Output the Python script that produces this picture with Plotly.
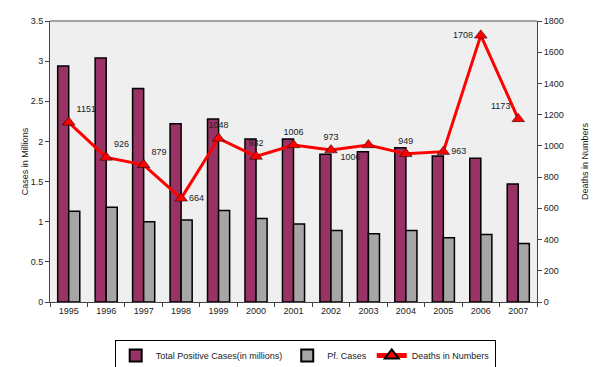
import plotly.graph_objects as go

years = ["1995", "1996", "1997", "1998", "1999", "2000", "2001", "2002", "2003", "2004", "2005", "2006", "2007"]
total_cases = [2.94, 3.04, 2.66, 2.22, 2.28, 2.03, 2.03, 1.84, 1.87, 1.92, 1.82, 1.79, 1.47]
pf_cases = [1.13, 1.18, 1.00, 1.02, 1.14, 1.04, 0.97, 0.89, 0.85, 0.89, 0.80, 0.84, 0.73]
deaths = [1151, 926, 879, 664, 1048, 932, 1006, 973, 1006, 949, 963, 1708, 1173]
death_labels = ["1151", "926", "879", "664", "1048", "932", "1006", "973", "1006", "949", "963", "1708", "1173"]
label_pos = ["top right", "top right", "top right", "middle right", "top center", "top center",
             "top center", "top center", "bottom left", "top center", "middle right", "middle left", "top left"]

FF = "Liberation Sans, Arial, sans-serif"
font = dict(family=FF, size=9, color="#222222")

fig = go.Figure()
fig.add_trace(go.Bar(
    x=years, y=total_cases, name="Total Positive Cases(in millions)",
    marker=dict(color="#993366", line=dict(color="black", width=1.5)),
))
fig.add_trace(go.Bar(
    x=years, y=pf_cases, name="Pf. Cases",
    marker=dict(color="#a6a6a6", line=dict(color="black", width=1.5)),
))
fig.add_trace(go.Scatter(
    x=years, y=deaths, name="Deaths in Numbers", yaxis="y2",
    mode="lines+markers+text", text=death_labels, textposition=label_pos,
    textfont=dict(family=FF, size=9, color="#222222"),
    line=dict(color="#ff0000", width=3),
    marker=dict(symbol="triangle-up", size=11, color="#ff0000", line=dict(color="black", width=0.5)),
))

fig.update_layout(
    width=592, height=359,
    margin=dict(l=42, r=63, t=13, b=65, autoexpand=False),
    paper_bgcolor="white", plot_bgcolor="#efefef",
    font=font,
    barmode="group", bargap=0.41, bargroupgap=0,
    showlegend=True,
    legend=dict(orientation="h", x=0.524, xanchor="center", y=-0.135, yanchor="top",
                bordercolor="black", borderwidth=1, bgcolor="white",
                font=dict(family=FF, size=9, color="#222222"),
                itemsizing="constant", tracegroupgap=0, itemwidth=30),
    xaxis=dict(range=[-0.5, 12.5], showgrid=False, showline=True, linecolor="#444444", linewidth=1,
               ticks="outside", tickson="boundaries", ticklen=4, tickcolor="#444444",
               tickfont=font, automargin=False),
    yaxis=dict(range=[0, 3.5], dtick=0.5, showgrid=False, zeroline=False,
               showline=True, linecolor="#444444", linewidth=1,
               ticks="outside", ticklen=4, tickcolor="#444444", tickfont=font, automargin=False,
               title=dict(text="Cases in Millions", font=dict(family=FF, size=9, color="#222222"), standoff=0)),
    yaxis2=dict(range=[0, 1800], dtick=200, overlaying="y", side="right", showgrid=False,
                zeroline=False, showline=True, linecolor="#444444", linewidth=1,
                ticks="outside", ticklen=4, tickcolor="#444444", tickfont=font, automargin=False,
                title=dict(text="Deaths in Numbers", font=dict(family=FF, size=9, color="#222222"), standoff=18)),
    shapes=[dict(type="line", xref="paper", yref="paper", x0=0, x1=1, y0=1, y1=1,
                 line=dict(color="#888888", width=1.5))],
)

fig.write_html("out.html")
